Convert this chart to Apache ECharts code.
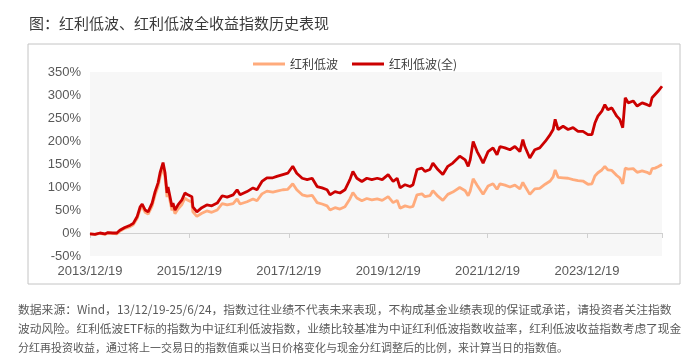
<!DOCTYPE html>
<html><head><meta charset="utf-8">
<script src="https://cdn.jsdelivr.net/npm/echarts@6.0.0/dist/echarts.min.js"></script>
<style>html,body{margin:0;padding:0;background:#fff}#c{width:695px;height:363px}</style>
</head><body><div id="c"></div>
<script>
const chartTitle = '图：红利低波、红利低波全收益指数历史表现';
const seriesNames = ['红利低波', '红利低波(全)'];
const xLabels = ['2013/12/19','2015/12/19','2017/12/19','2019/12/19','2021/12/19','2023/12/19'];
const startYear = 2013.97;   // 2013/12/19
const endYear = 2025.48;     // 2025/6/24
const yearPos = [2013.97,2014.07,2014.17,2014.27,2014.33,2014.43,2014.51,2014.57,2014.67,2014.78,
2014.84,2014.92,2014.98,2015.02,2015.08,2015.14,2015.22,2015.28,2015.34,2015.38,
2015.44,2015.48,2015.52,2015.54,2015.58,2015.62,2015.64,2015.68,2015.74,2015.82,
2015.88,2015.94,2016.02,2016.04,2016.12,2016.22,2016.32,2016.42,2016.53,2016.63,
2016.73,2016.85,2016.93,2016.99,2017.13,2017.25,2017.33,2017.43,2017.53,2017.65,
2017.73,2017.85,2017.95,2018.05,2018.13,2018.24,2018.34,2018.44,2018.54,2018.64,
2018.74,2018.80,2018.90,2019.00,2019.10,2019.20,2019.26,2019.34,2019.44,2019.54,
2019.64,2019.75,2019.85,2019.97,2020.07,2020.15,2020.21,2020.31,2020.41,2020.47,
2020.55,2020.65,2020.71,2020.81,2020.87,2020.97,2021.07,2021.17,2021.27,2021.41,
2021.52,2021.58,2021.62,2021.68,2021.76,2021.82,2021.88,2021.98,2022.08,2022.16,
2022.22,2022.32,2022.42,2022.52,2022.62,2022.68,2022.72,2022.82,2022.92,2023.02,
2023.13,2023.23,2023.29,2023.33,2023.39,2023.49,2023.59,2023.69,2023.79,2023.89,
2023.99,2024.07,2024.13,2024.19,2024.27,2024.33,2024.39,2024.47,2024.57,2024.63,
2024.69,2024.74,2024.80,2024.90,2024.98,2025.08,2025.18,2025.24,2025.28,2025.34,
2025.40,2025.48];
// 红利低波 (price index) cumulative return, %
const priceReturn = [-2,-3,-1,-3,0,-1,-2,4,10,14,
18,32,52,58,45,41,59,83,101,122,
142,121,78,91,70,49,57,42,52,62,
76,71,67,46,36,43,48,45,50,64,
61,64,74,63,68,74,70,85,91,89,
91,94,95,107,94,83,80,82,66,63,
59,50,55,52,57,74,88,76,70,75,
72,74,71,79,66,71,54,59,56,58,
83,85,79,81,92,80,71,84,89,99,
92,81,91,118,104,94,84,102,107,95,
107,104,100,104,96,110,102,84,96,97,
106,113,122,137,121,120,119,116,114,113,
106,107,124,131,137,145,137,136,125,120,
107,141,139,140,132,135,132,128,140,141,
144,149];
// 红利低波(全) (total return index) cumulative return, %
const totalReturn = [-2,-3,0,-2,1,0,0,6,12,17,
21,36,57,63,50,46,65,90,109,131,
153,131,87,100,79,57,65,50,61,72,
87,83,79,57,46,55,61,59,65,81,
78,83,94,83,90,98,94,112,120,120,
123,127,130,145,130,119,116,119,101,98,
94,83,90,87,94,116,134,119,112,119,
116,119,116,127,112,119,98,105,101,105,
138,141,134,138,152,138,127,145,152,167,
159,145,159,199,177,165,152,177,185,170,
188,185,181,188,177,203,188,163,181,185,
199,214,225,247,225,232,225,229,221,221,
214,214,239,254,265,279,268,272,254,247,
229,294,283,287,276,283,279,276,294,301,
308,319];
const yTicks = {min:-50, max:350, step:50};
const footnotes = [
  '数据来源：Wind，13/12/19-25/6/24，指数过往业绩不代表未来表现，不构成基金业绩表现的保证或承诺，请投资者关注指数',
  '波动风险。红利低波ETF标的指数为中证红利低波指数，业绩比较基准为中证红利低波指数收益率，红利低波收益指数考虑了现金',
  '分红再投资收益，通过将上一交易日的指数值乘以当日价格变化与现金分红调整后的比例，来计算当日的指数值。'
];

const span = endYear - startYear;
const pairs = arr => arr.map((v, i) => [yearPos[i] - startYear, v]);
const cjk = '"Noto Sans CJK SC", "Noto Sans", sans-serif';
const latin = '"Liberation Sans", Arial, sans-serif';

const chart = echarts.init(document.getElementById('c'), null, {renderer: 'canvas', width: 695, height: 363});
chart.setOption({
  backgroundColor: '#ffffff',
  animation: false,
  textStyle: {fontFamily: cjk},
  title: {text: chartTitle, left: 24, top: 11,
    textStyle: {fontSize: 15, fontWeight: 'normal', color: '#3a3a3a', fontFamily: cjk}},
  legend: {left: 248, top: 53, icon: 'rect', itemWidth: 32, itemHeight: 3, itemGap: 14,
    textStyle: {fontSize: 12, color: '#404040', fontFamily: cjk}, data: seriesNames},
  grid: [
    {left: 90, right: 33, top: 72, bottom: 107, show: true, backgroundColor: '#f7f7f7', borderWidth: 0, containLabel: false},
    // outer frame around the chart panel
    {left: 28, right: 15, top: 44, bottom: 79, show: true, backgroundColor: 'rgba(0,0,0,0)',
      borderColor: '#c4c4c4', borderWidth: 1, containLabel: false, z: 5}
  ],
  xAxis: [
    {type: 'value', gridIndex: 0, min: 0, max: span, interval: 2, position: 'bottom',
      axisLine: {onZero: true, lineStyle: {color: '#d0d0d0', width: 1}},
      axisTick: {show: true, length: 5, lineStyle: {color: '#d0d0d0'}},
      axisLabel: {show: false}, splitLine: {show: false}},
    {type: 'value', gridIndex: 0, min: 0, max: span, interval: 2, position: 'bottom',
      axisLine: {show: false, onZero: false}, axisTick: {show: false}, splitLine: {show: false},
      axisLabel: {margin: 9, fontSize: 13, color: '#595959', fontFamily: latin, showMaxLabel: false,
        formatter: v => { const i = Math.round(v / 2); return (Math.abs(v - 2 * i) < 1e-6 && xLabels[i]) ? xLabels[i] : ''; }}},
    {type: 'value', gridIndex: 1, min: 0, max: 1, show: false}
  ],
  yAxis: [
    {type: 'value', gridIndex: 0, min: yTicks.min, max: yTicks.max, interval: yTicks.step,
      axisLine: {show: false}, axisTick: {show: false}, splitLine: {show: false},
      axisLabel: {formatter: '{value}%', fontSize: 13, color: '#595959', margin: 9, fontFamily: latin}},
    {type: 'value', gridIndex: 1, min: 0, max: 1, show: false}
  ],
  series: [
    {name: seriesNames[0], type: 'line', xAxisIndex: 0, yAxisIndex: 0, data: pairs(priceReturn), showSymbol: false, symbol: 'none',
      lineStyle: {color: '#ffab7c', width: 2.8}, itemStyle: {color: '#ffab7c'}},
    {name: seriesNames[1], type: 'line', xAxisIndex: 0, yAxisIndex: 0, data: pairs(totalReturn), showSymbol: false, symbol: 'none',
      lineStyle: {color: '#cc0000', width: 2.8}, itemStyle: {color: '#cc0000'}}
  ],
  graphic: {elements: [
    {type: 'text', silent: true, left: 18, top: 304, style: {text: footnotes[0], fill: '#5a5a5a', fontSize: 11.8, fontFamily: cjk}},
    {type: 'text', silent: true, left: 18, top: 323, style: {text: footnotes[1], fill: '#5a5a5a', fontSize: 11.7, fontFamily: cjk}},
    {type: 'text', silent: true, left: 18, top: 342, style: {text: footnotes[2], fill: '#5a5a5a', fontSize: 11, fontFamily: cjk}}
  ]}
});
</script>
</body></html>
